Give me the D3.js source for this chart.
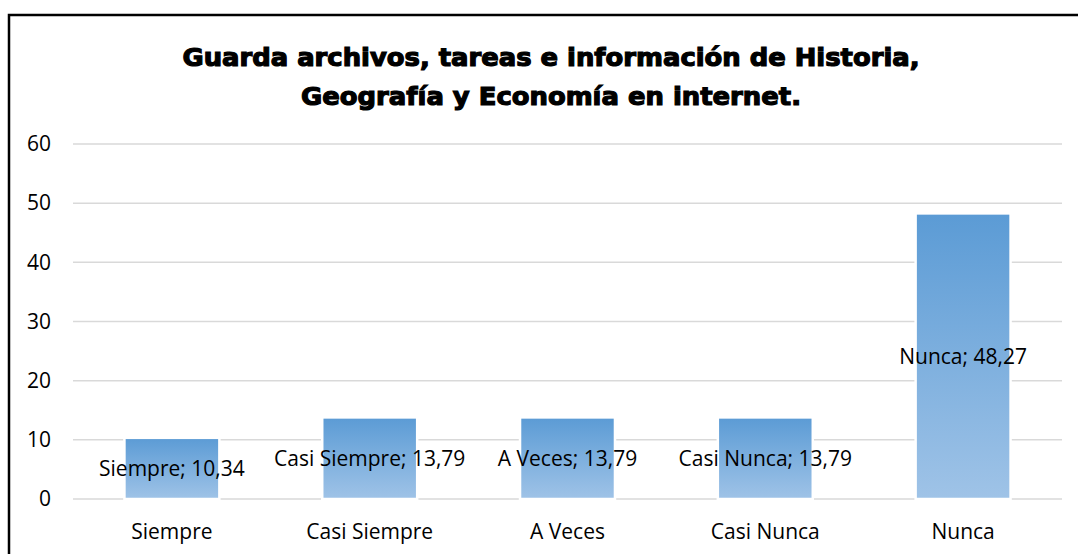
<!DOCTYPE html>
<html>
<head>
<meta charset="utf-8">
<script src="https://cdn.jsdelivr.net/npm/d3@7"></script>
<style>
  body { margin: 0; background: #fff; }
  text { font-family: "Open Sans", "Noto Sans", sans-serif; }
</style>
</head>
<body>
<svg id="canvas"></svg>
<script>
let categories = ['Siempre', 'Casi Siempre', 'A Veces', 'Casi Nunca', 'Nunca']
let values = [10.34, 13.79, 13.79, 13.79, 48.27]
let yTicks = [0, 10, 20, 30, 40, 50, 60]
let titleLines = ['Guarda archivos, tareas e información de Historia,', 'Geografía y Economía en internet.']

let width = 1078
let height = 554

let canvas = d3.select('#canvas')
               .attr('width', width)
               .attr('height', height)

// outer frame, runs off the right and bottom edges
canvas.append('rect')
      .attr('x', 9)
      .attr('y', 15)
      .attr('width', 1100)
      .attr('height', 600)
      .attr('fill', 'none')
      .attr('stroke', '#000')
      .attr('stroke-width', 2.5)

let defs = canvas.append('defs')
let grad = defs.append('linearGradient')
               .attr('id', 'barGrad')
               .attr('x1', 0).attr('y1', 0)
               .attr('x2', 0).attr('y2', 1)
grad.append('stop').attr('offset', '0%').attr('stop-color', '#5b9bd5')
grad.append('stop').attr('offset', '100%').attr('stop-color', '#9fc3e7')

let xScale = d3.scaleBand()
               .domain(categories)
               .range([73, 1062])
               .paddingInner(0.52)
               .paddingOuter(0.26)

let yScale = d3.scaleLinear()
               .domain([0, 60])
               .range([499, 144])

// gridlines
canvas.append('g')
      .selectAll('line')
      .data(yTicks)
      .enter()
      .append('line')
      .attr('x1', 73)
      .attr('x2', 1062)
      .attr('y1', d => yScale(d))
      .attr('y2', d => yScale(d))
      .attr('stroke', '#d9d9d9')
      .attr('stroke-width', 1.5)

let yAxis = d3.axisLeft(yScale)
              .tickValues(yTicks)
              .tickSize(0)
              .tickPadding(0)

let yG = canvas.append('g')
               .attr('transform', 'translate(51, 0)')
               .call(yAxis)
yG.select('.domain').remove()
yG.selectAll('text')
  .attr('font-size', 21)
  .attr('fill', '#000')
  .style('font-family', '"Open Sans", sans-serif')

// bars
canvas.selectAll('.bar')
      .data(values)
      .enter()
      .append('rect')
      .attr('class', 'bar')
      .attr('x', (d, i) => xScale(categories[i]))
      .attr('width', xScale.bandwidth())
      .attr('y', d => yScale(d))
      .attr('height', d => yScale(0) - yScale(d))
      .attr('fill', 'url(#barGrad)')
      .attr('stroke', '#fff')
      .attr('stroke-width', 2.5)

// data labels at bar centre
canvas.selectAll('.label')
      .data(values)
      .enter()
      .append('text')
      .attr('class', 'label')
      .attr('x', (d, i) => xScale(categories[i]) + xScale.bandwidth() / 2)
      .attr('y', d => (yScale(d) + yScale(0)) / 2)
      .attr('dy', '0.35em')
      .attr('text-anchor', 'middle')
      .attr('font-size', 21)
      .attr('fill', '#000')
      .text((d, i) => `${categories[i]}; ${d3.format('.2f')(d).replace('.', ',')}`)

let xAxis = d3.axisBottom(xScale)
              .tickSize(0)
              .tickPadding(0)

let xG = canvas.append('g')
               .attr('transform', 'translate(0, 524)')
               .call(xAxis)
xG.select('.domain').remove()
xG.selectAll('text')
  .attr('font-size', 21)
  .attr('fill', '#000')
  .style('font-family', '"Open Sans", sans-serif')

// title
canvas.selectAll('.title')
      .data(titleLines)
      .enter()
      .append('text')
      .attr('class', 'title')
      .attr('x', 551)
      .attr('y', (d, i) => 66 + i * 39)
      .attr('text-anchor', 'middle')
      .style('font-family', '"DejaVu Sans", sans-serif')
      .attr('font-weight', 'bold')
      .attr('font-size', 25)
      .attr('stroke', '#000')
      .attr('stroke-width', 1.2)
      .attr('textLength', (d, i) => i === 0 ? 737 : 500)
      .attr('lengthAdjust', 'spacingAndGlyphs')
      .text(d => d)
</script>
</body>
</html>
